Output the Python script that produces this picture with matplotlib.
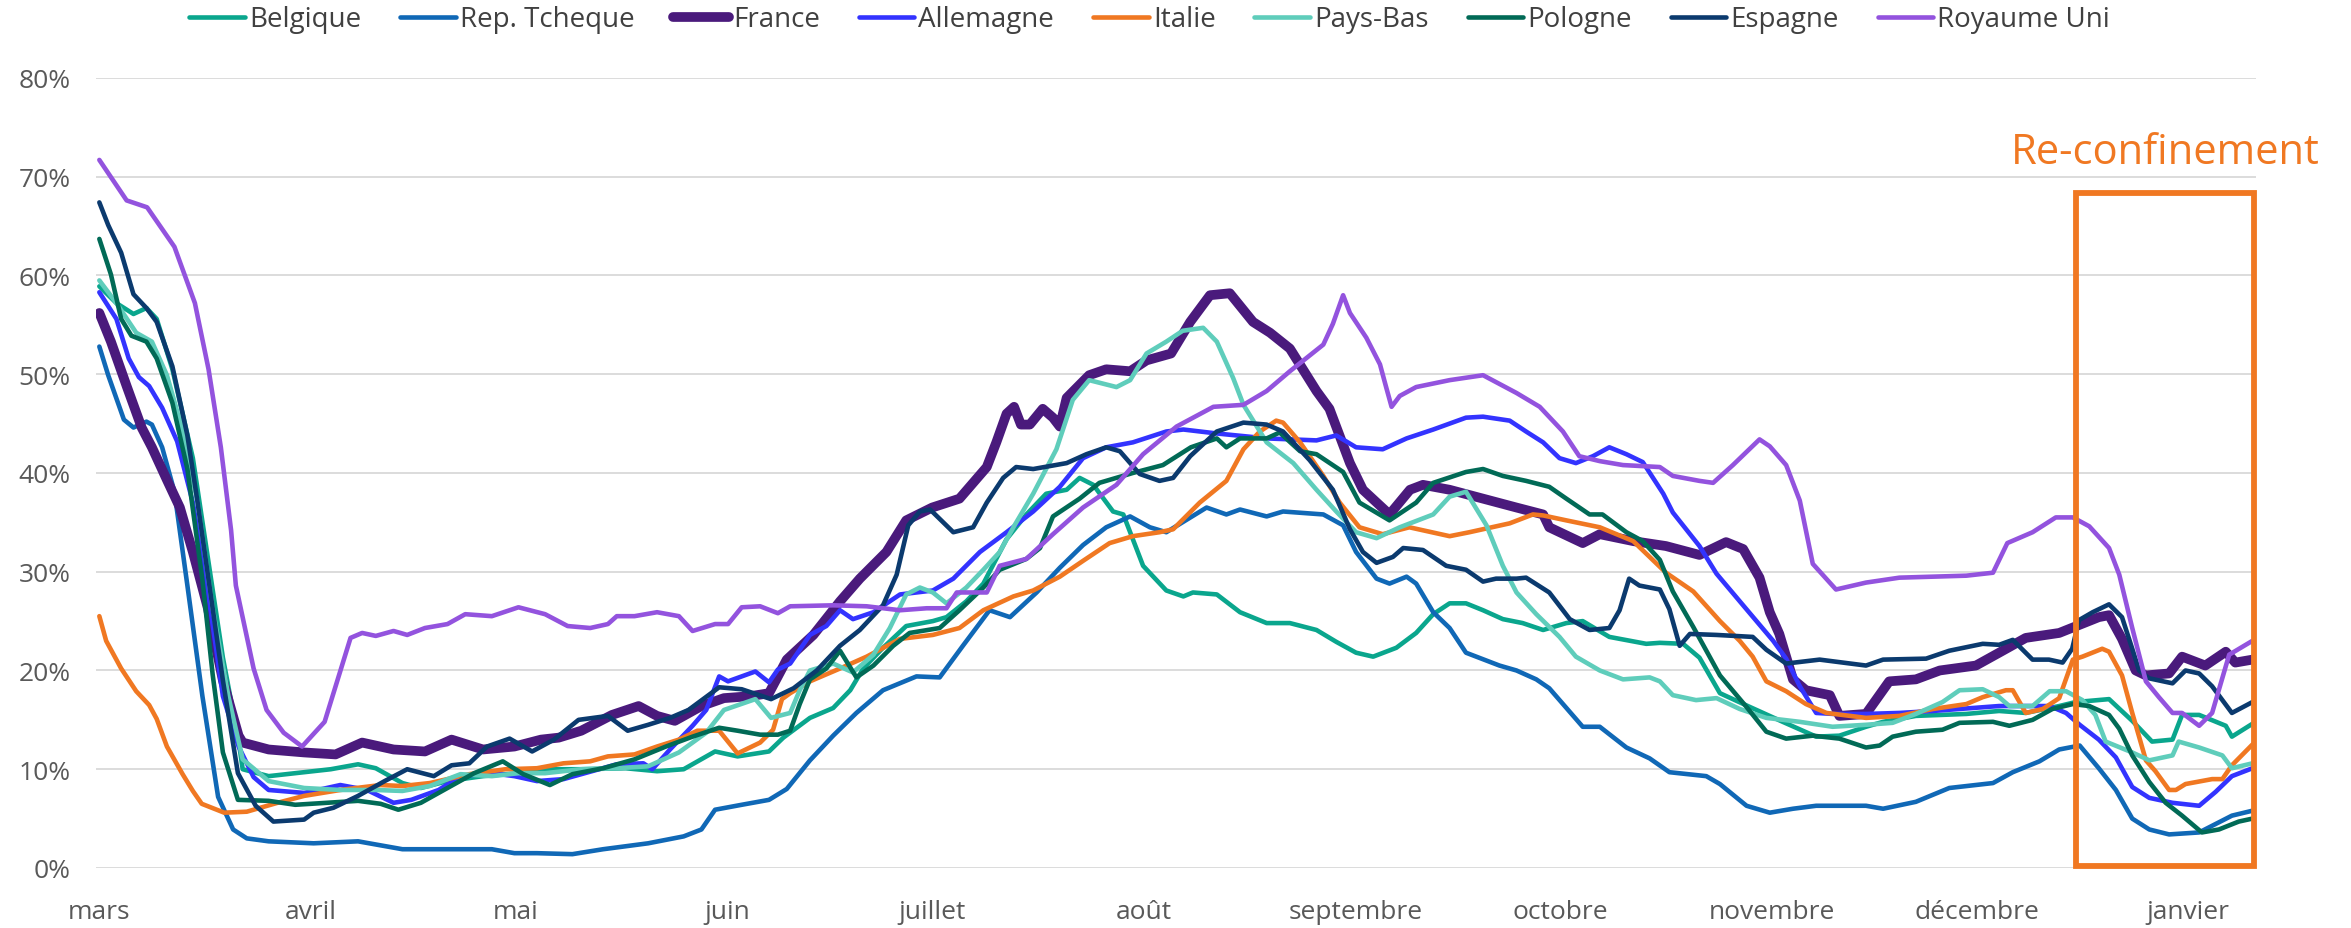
import matplotlib
matplotlib.use("Agg")
import matplotlib.pyplot as plt
import pandas as pd
from matplotlib.patches import Rectangle
from matplotlib.ticker import PercentFormatter

plt.rcParams["font.family"] = ["Open Sans", "DejaVu Sans"]

# values: (days since 1 March 2020, share in %)
BELGIQUE = [
    (0, 58.9), (2.5, 57.2), (5, 56.1), (6.9, 56.7), (8.4, 55.6), (10.7, 50.5), (13.7, 41.5),
    (15.9, 31.4), (18.1, 21.3), (20.4, 12.9), (21, 10), (24.8, 9.3), (28.7, 9.6), (33.9, 10),
    (37.9, 10.5), (40.5, 10.1), (44.4, 8.6), (47.1, 8.1), (51, 8.8), (56.2, 9.3), (61.4, 9.6),
    (65.3, 10), (70.6, 10), (77.1, 10.1), (81.7, 9.8), (85.6, 10), (90.2, 11.8), (93.5, 11.3),
    (98.1, 11.8), (100.2, 13.2), (104.1, 15.2), (107.5, 16.2), (110, 18), (111.9, 20.2),
    (114.8, 22.3), (118.2, 24.5), (122.1, 25), (124.1, 25.4), (127, 27), (129.5, 28.8),
    (132.9, 33.3), (135.8, 35.8), (138.7, 37.9), (141.7, 38.3), (143.6, 39.5), (145.6, 38.8),
    (148.5, 36.1), (150, 35.8), (152.9, 30.6), (156.3, 28.1), (158.8, 27.5), (160.2, 27.9),
    (163.7, 27.7), (167.1, 25.9), (171, 24.8), (174.4, 24.8), (178.3, 24.1), (181.2, 22.9),
    (184.1, 21.8), (186.6, 21.4), (190, 22.3), (192.9, 23.8), (195.4, 25.7), (197.8, 26.8),
    (200.2, 26.8), (202.7, 26.1), (205.6, 25.2), (208.5, 24.8), (211.5, 24.1), (214.9, 24.8),
    (217.3, 25), (221.2, 23.4), (226.6, 22.7), (228.6, 22.8), (232, 22.7), (234.4, 21.3),
    (235.9, 19.5), (237.4, 17.7), (241.8, 16.3), (246.6, 14.8), (251.5, 13.3), (254.9, 13.4),
    (258.8, 14.3), (261.3, 14.8), (266.1, 15.4), (273.5, 15.6), (278.3, 15.9), (282.2, 15.7),
    (287.1, 16.4), (289.5, 16.8), (294.4, 17.1), (297.8, 14.9), (300.7, 12.8), (303.7, 13),
    (305.1, 15.5), (307.6, 15.5), (311.5, 14.4), (312.4, 13.3), (315.4, 14.6),
]
REP_TCHEQUE = [
    (0, 52.8), (1.3, 49.9), (3.6, 45.4), (5, 44.6), (6.9, 45.2), (7.7, 44.9), (9.2, 42.6),
    (11, 38.1), (12.9, 28.6), (15.1, 17.4), (17.4, 7.2), (19.6, 3.9), (21.6, 3), (24.8, 2.7),
    (31.4, 2.5), (37.9, 2.7), (44.4, 1.9), (51, 1.9), (57.5, 1.9), (60.8, 1.5), (64.1, 1.5),
    (69.3, 1.4), (73.8, 1.9), (80.4, 2.5), (85.6, 3.2), (88.2, 3.9), (90.2, 5.9), (94.1, 6.4),
    (98.1, 6.9), (100.7, 8), (104.1, 10.9), (107.5, 13.4), (110.9, 15.7), (114.8, 18),
    (119.7, 19.4), (123.1, 19.3), (126.5, 22.5), (130.4, 26.1), (133.4, 25.4), (137.3, 27.9),
    (140.7, 30.4), (144.1, 32.7), (147.5, 34.5), (151, 35.6), (153.9, 34.5), (156.3, 34),
    (162.2, 36.5), (165.1, 35.8), (167.1, 36.3), (171, 35.6), (173.4, 36.1), (179.3, 35.8),
    (182.2, 34.7), (184.1, 32), (187.1, 29.3), (189, 28.8), (191.5, 29.5), (192.9, 28.8),
    (195.4, 25.9), (197.8, 24.3), (200.2, 21.8), (205.1, 20.5), (207.6, 20), (210.5, 19.1),
    (212.4, 18.2), (217.3, 14.3), (219.8, 14.3), (223.7, 12.2), (227.1, 11.1), (230, 9.7),
    (235.4, 9.3), (237.4, 8.5), (241.3, 6.3), (244.7, 5.6), (248.1, 6), (251.5, 6.3),
    (258.8, 6.3), (261.3, 6), (266.1, 6.7), (271, 8.1), (277.4, 8.6), (280.3, 9.7),
    (284.2, 10.8), (287.1, 12), (290.1, 12.4), (292.9, 10.1), (295.4, 7.9), (297.8, 5),
    (300.3, 3.9), (303.2, 3.4), (307.6, 3.6), (312.4, 5.3), (315.4, 5.8),
]
FRANCE = [
    (0, 56.2), (1.7, 53.3), (4, 48.8), (6.2, 44.6), (7.7, 42.6), (9.9, 39.3), (11.8, 36.5),
    (13.7, 32), (15.9, 26.3), (18.1, 19), (20.4, 13.4), (21, 12.7), (24.8, 12), (30, 11.7),
    (34.6, 11.5), (38.5, 12.7), (43.1, 12), (47.7, 11.8), (51.6, 13), (56.2, 12), (60.8, 12.3),
    (64.7, 13), (67.3, 13.2), (70.6, 13.9), (75.1, 15.5), (79, 16.4), (81.7, 15.4), (84.3, 14.9),
    (88.2, 16.4), (91.5, 17.2), (95.4, 17.4), (98.1, 17.7), (100.7, 21.1), (104.6, 23.6),
    (108.5, 27), (111.4, 29.3), (115.3, 32), (118.2, 35.2), (122, 36.5), (126, 37.4),
    (130, 40.6), (131.4, 43.1), (132.9, 46), (134, 46.7), (135, 44.9), (136.3, 44.9),
    (138.2, 46.5), (139.7, 45.6), (140.7, 44.7), (141.7, 47.6), (145, 49.9), (147.5, 50.5),
    (151, 50.3), (153.4, 51.4), (157, 52.1), (159.8, 55.3), (162.7, 58), (165.6, 58.2),
    (169, 55.3), (171.5, 54.2), (174.4, 52.6), (178.3, 48.3), (180.2, 46.5), (183.2, 41),
    (185.1, 38.3), (189, 35.8), (192, 38.3), (193.9, 38.8), (197.8, 38.3), (202.7, 37.4),
    (207.6, 36.5), (211.5, 35.8), (212.4, 34.5), (217.3, 32.9), (219.8, 33.8), (224.7, 33.1),
    (229.5, 32.6), (234.4, 31.7), (238.3, 33), (240.8, 32.3), (243.2, 29.4), (244.7, 25.9),
    (246.1, 23.7), (248.1, 19.1), (250, 18), (253.5, 17.5), (254.9, 15.4), (258.8, 15.6),
    (262.2, 18.9), (266.1, 19.1), (269.6, 20), (274.9, 20.5), (278.3, 21.8), (282.2, 23.3),
    (287.1, 23.8), (290, 24.6), (292.9, 25.4), (294.4, 25.6), (296.3, 23.2), (298.3, 20),
    (299.8, 19.5), (303.2, 19.7), (305.1, 21.4), (308.5, 20.5), (311.5, 21.9), (312.9, 20.8),
    (315.4, 21.1),
]
ALLEMAGNE = [
    (0, 58.3), (2.5, 55.6), (4.3, 51.6), (5.8, 49.7), (7.3, 48.8), (9.2, 46.6), (11.4, 43.2),
    (13.7, 37), (15.9, 28), (18.1, 17.4), (20.4, 12.3), (22.6, 9.2), (24.8, 7.9), (30, 7.6),
    (35.3, 8.4), (39.2, 7.9), (43.1, 6.6), (45.7, 6.9), (49.7, 7.9), (52.9, 9.3), (57.5, 9.6),
    (60.8, 9.3), (64.1, 8.8), (68, 9), (70.6, 9.5), (75.8, 10.5), (79.7, 10.6), (81, 10),
    (83.6, 12), (86.9, 14.4), (88.9, 16), (90.8, 19.4), (92.1, 18.9), (96.1, 19.9), (98.1, 18.8),
    (99.4, 20.1), (101.2, 20.7), (104.1, 23.6), (106.5, 24.5), (108.5, 26.1), (110.4, 25.2),
    (113.4, 25.9), (117.3, 27.7), (122.1, 28.1), (125.1, 29.3), (129, 32), (132.9, 34),
    (136.8, 36.1), (140.7, 38.6), (144.1, 41.5), (147.5, 42.6), (151.4, 43.1), (156.3, 44.2),
    (158.8, 44.4), (163.7, 44), (171, 43.5), (178.3, 43.3), (181.2, 43.8), (184.1, 42.6),
    (188, 42.4), (191.5, 43.5), (195.4, 44.4), (200.2, 45.6), (202.7, 45.7), (206.6, 45.3),
    (209, 44.2), (211.5, 43.1), (213.9, 41.5), (216.3, 41), (218.8, 41.7), (221.2, 42.6),
    (223.7, 41.9), (226.1, 41.1), (229.1, 37.9), (230.5, 36), (234.4, 32.6), (236.9, 29.8),
    (240.8, 26.6), (245.2, 23), (247.1, 21.2), (249.1, 18.4), (251.5, 15.7), (254, 15.6),
    (258.8, 15.6), (263.7, 15.7), (268.6, 15.9), (278.3, 16.4), (285.7, 16.4), (288.1, 15.7),
    (290.1, 14.5), (292.9, 13), (295.4, 11.2), (297.8, 8.2), (300.3, 7.1), (303.7, 6.6),
    (307.6, 6.3), (310, 7.7), (312.4, 9.3), (315.4, 10.1),
]
ITALIE = [
    (0, 25.5), (1, 23), (3.2, 20.2), (5.4, 17.9), (7.3, 16.5), (8.4, 15.1), (9.9, 12.3),
    (12.2, 9.5), (13.7, 7.8), (15, 6.5), (18.3, 5.6), (21.6, 5.7), (26.1, 6.6), (30, 7.3),
    (35.3, 7.9), (41.2, 8.4), (44.4, 8.3), (48.4, 8.6), (54.2, 9.5), (59.5, 10), (64.1, 10.1),
    (68, 10.6), (71.9, 10.8), (74.5, 11.3), (78.4, 11.5), (81.7, 12.3), (84.9, 13), (87.6, 13.9),
    (90.8, 13.9), (93.5, 11.6), (96.8, 12.7), (98.7, 14), (100, 17.1), (101.2, 17.7),
    (104.1, 18.9), (108.5, 20.2), (112.4, 21.4), (117.3, 23.2), (122.1, 23.6), (126, 24.3),
    (129.5, 26.1), (133.9, 27.5), (136.8, 28.1), (140.7, 29.5), (144.1, 31.1), (148, 32.9),
    (151.4, 33.6), (155.3, 34), (157.3, 34.3), (161.2, 37), (165.1, 39.2), (167.6, 42.4),
    (170, 44.2), (172.4, 45.3), (173.4, 45.1), (175.9, 43.1), (179.3, 39.7), (181.7, 37),
    (184.6, 34.5), (188, 33.8), (191.9, 34.5), (197.8, 33.6), (200.7, 34), (206.6, 34.9),
    (210, 35.8), (211.5, 35.7), (214.9, 35.2), (219.8, 34.5), (224.7, 33.1), (229.5, 29.9),
    (233.5, 28), (237.4, 25), (240.3, 23), (242.2, 21.4), (244.2, 18.9), (247.1, 17.9),
    (250, 16.6), (253, 15.7), (258.8, 15.2), (263.7, 15.4), (268.6, 16.1), (273.5, 16.6),
    (275.9, 17.3), (279.3, 18), (280.3, 18), (282.2, 15.7), (284.7, 16.1), (287.1, 17.2),
    (289.1, 21.1), (290.5, 21.4), (293.4, 22.2), (294.4, 21.9), (296.3, 19.5), (297.8, 15.7),
    (299.8, 10.9), (301.2, 9.8), (303.2, 7.9), (304.2, 7.9), (305.6, 8.5), (309.5, 9),
    (311, 9), (312.4, 10.4), (315.4, 12.5),
]
PAYS_BAS = [
    (0, 59.5), (2.5, 57.2), (5.4, 54.2), (7.7, 53.3), (9.9, 49.9), (12.2, 44.3), (14.4, 37),
    (16.6, 26.3), (18.9, 17.4), (21, 11), (24.8, 8.8), (30, 8.1), (35.3, 7.9), (40.5, 7.9),
    (44.4, 7.8), (48.4, 8.3), (52.9, 9.5), (57.5, 9.3), (61.4, 9.6), (65.3, 9.6), (70.6, 10),
    (75.8, 10.1), (80.4, 10.3), (84.9, 11.7), (88.9, 13.7), (91.5, 16), (96.1, 17.1),
    (98.4, 15.2), (101.2, 15.7), (102.6, 18), (104.1, 20), (107.5, 20.7), (110.4, 19.8),
    (113.4, 21.6), (115.8, 24.3), (118.2, 27.7), (120.2, 28.4), (122.1, 27.9), (124.1, 26.8),
    (127, 28.4), (129.5, 30.2), (131.9, 32), (133.9, 34.5), (136.8, 37.9), (140.2, 42.4),
    (142.6, 47.4), (145, 49.4), (149, 48.7), (151, 49.4), (153.4, 52.1), (156.3, 53.3),
    (158.7, 54.4), (161.7, 54.7), (163.7, 53.3), (166.1, 49.6), (167.6, 46.9), (171, 43.1),
    (174.9, 41), (178.3, 38.3), (181.2, 36.1), (184.1, 34), (187.1, 33.4), (190.5, 34.5),
    (195.4, 35.8), (197.8, 37.6), (200.2, 38.1), (203.2, 34.7), (205.6, 30.6), (207.6, 27.9),
    (210.5, 25.7), (213.9, 23.4), (216.3, 21.4), (219.8, 20), (223.2, 19.1), (227.1, 19.3),
    (228.6, 18.9), (230.5, 17.5), (233.9, 17), (236.9, 17.2), (240.3, 16.1), (244.2, 15.2),
    (249.1, 14.8), (253.9, 14.3), (258.8, 14.5), (262.7, 14.7), (266.1, 15.6), (270, 16.8),
    (272.5, 18), (275.9, 18.1), (278.3, 17.3), (279.8, 16.4), (283.2, 16.4), (285.7, 17.9),
    (288.1, 17.9), (290.5, 17), (292.4, 15.5), (293.9, 12.8), (297.8, 11.7), (300.3, 10.9),
    (303.7, 11.4), (304.6, 12.8), (307.6, 12.2), (311, 11.4), (312.4, 10.1), (315.4, 10.6),
]
POLOGNE = [
    (0, 63.7), (1.7, 60.1), (3.2, 55.6), (4.7, 53.9), (6.9, 53.3), (8.4, 51.6), (10.7, 47.1),
    (12.9, 40.4), (15.1, 29.2), (16.6, 19.6), (18.1, 11.7), (20.3, 6.9), (24.8, 6.8),
    (28.7, 6.4), (33.3, 6.6), (37.9, 6.8), (41.2, 6.5), (43.8, 5.9), (47.1, 6.6), (51, 8.1),
    (54.9, 9.6), (59.1, 10.8), (62.1, 9.5), (66, 8.4), (69.3, 9.5), (73.8, 10.1), (78.4, 11),
    (83, 12.3), (86.9, 13.3), (90.8, 14.2), (93.5, 13.9), (96.8, 13.5), (99.4, 13.5),
    (101.2, 13.9), (102.6, 16.6), (104.1, 19.1), (106.5, 20.2), (108.5, 22), (110.9, 19.3),
    (113.4, 20.5), (116.3, 22.5), (118.7, 23.8), (123.1, 24.3), (126, 26.1), (129.5, 28.4),
    (131.9, 30.2), (135.8, 31.3), (137.8, 32.4), (139.7, 35.6), (143.6, 37.4), (146.5, 39),
    (151.4, 40), (155.8, 40.8), (159.9, 42.6), (163.7, 43.5), (165.1, 42.6), (167.1, 43.5),
    (171, 43.5), (172.9, 44.1), (175.9, 42.2), (178.3, 41.9), (182.2, 40.1), (184.6, 37),
    (189, 35.2), (192.9, 37), (195.4, 39), (200.2, 40.1), (202.7, 40.4), (205.6, 39.7),
    (209, 39.2), (212.4, 38.6), (214.9, 37.4), (218.3, 35.8), (220.2, 35.8), (223.7, 34),
    (226.1, 33.1), (228.6, 31.2), (230.5, 28), (233.5, 24.4), (237.4, 19.5), (241.3, 16.3),
    (244.2, 13.8), (247.1, 13.1), (251, 13.4), (254.9, 13.1), (258.8, 12.2), (260.8, 12.4),
    (262.7, 13.3), (266.1, 13.8), (270, 14), (272.5, 14.7), (277.4, 14.8), (279.8, 14.4),
    (283.2, 15), (286.1, 16.1), (289.1, 16.6), (291.5, 16.4), (294.4, 15.5), (295.9, 14.1),
    (297.8, 11.4), (300.3, 8.7), (302.7, 6.6), (305.1, 5.3), (308, 3.6), (310.5, 3.9),
    (313.4, 4.7), (315.4, 5),
]
ESPAGNE = [
    (0, 67.4), (1.3, 65.1), (3.2, 62.3), (5, 58.1), (6.9, 56.7), (8.4, 55.3), (10.7, 50.8),
    (12.9, 43.8), (14.4, 37), (15.9, 29.7), (18.1, 19), (20.3, 9.6), (22.9, 6.3), (25.5, 4.7),
    (30, 4.9), (31.4, 5.6), (34.3, 6.1), (37.9, 7.3), (41.8, 8.8), (45.1, 10), (49, 9.3),
    (51.6, 10.4), (54.2, 10.6), (56.8, 12.3), (60.1, 13.1), (63.4, 11.8), (66.6, 13),
    (70.2, 15), (74.5, 15.4), (77.4, 13.9), (80.4, 14.5), (83.6, 15.2), (86.3, 16), (90.8, 18.3),
    (94.1, 18.1), (98.4, 17.1), (101.7, 18.2), (105.1, 20), (108.5, 22.5), (111.4, 24.1),
    (114.8, 26.6), (116.8, 29.7), (118.5, 34.7), (120.2, 36.1), (121.7, 36.3), (125.1, 34),
    (128, 34.5), (130, 37), (132.4, 39.5), (134.3, 40.6), (136.8, 40.4), (141.7, 41),
    (144.6, 41.9), (147.5, 42.6), (149.5, 42.2), (152.4, 39.9), (155.3, 39.2), (157.3, 39.5),
    (159.8, 41.7), (163.7, 44.2), (167.6, 45.1), (171, 44.9), (173.4, 44.2), (177.3, 41.3),
    (180.7, 38.3), (183.2, 34.3), (185.1, 32), (187.1, 30.9), (189.5, 31.5), (191, 32.4),
    (193.9, 32.2), (197.3, 30.6), (200.2, 30.2), (202.7, 29), (204.6, 29.3), (207.6, 29.3),
    (209, 29.4), (212.4, 27.9), (215.4, 25.2), (218.3, 24.1), (221.2, 24.3), (222.7, 26.1),
    (224.1, 29.3), (225.6, 28.6), (228.6, 28.2), (230, 26.2), (231.5, 22.5), (233, 23.7),
    (236.9, 23.6), (242.2, 23.4), (244.2, 22.1), (247.1, 20.7), (252, 21.1), (258.8, 20.5),
    (261.3, 21.1), (267.6, 21.2), (271, 22), (275.9, 22.7), (278.3, 22.6), (280.3, 23.1),
    (283.2, 21.1), (285.6, 21.1), (287.6, 20.8), (289, 22.2), (290, 25.1), (292, 25.9),
    (294.4, 26.7), (296.3, 25.4), (297.8, 22.2), (298.8, 20), (300.3, 19.2), (303.7, 18.7),
    (305.6, 20), (307.6, 19.7), (309.5, 18.4), (312.4, 15.7), (315.4, 16.8),
]
ROYAUME_UNI = [
    (0, 71.7), (4, 67.6), (7, 66.9), (11, 62.9), (14, 57.2), (16, 50.5), (17.8, 42.6),
    (19.3, 34.2), (20, 28.6), (22.6, 20.2), (24.5, 16), (27, 13.7), (29.7, 12.3), (33, 14.8),
    (36.8, 23.3), (38.5, 23.8), (40.5, 23.5), (43.1, 24), (45.1, 23.6), (47.7, 24.3),
    (51, 24.7), (53.6, 25.7), (57.5, 25.5), (61.4, 26.4), (65.3, 25.7), (68.6, 24.5),
    (71.9, 24.3), (74.5, 24.7), (75.8, 25.5), (78.4, 25.5), (81.7, 25.9), (84.9, 25.5),
    (86.9, 24), (90.2, 24.7), (92.1, 24.7), (94.1, 26.4), (96.8, 26.5), (99.4, 25.8),
    (101.2, 26.5), (107.5, 26.6), (112.4, 26.5), (117.3, 26.1), (121.2, 26.3), (124.1, 26.3),
    (125.6, 27.9), (130, 27.9), (131.9, 30.6), (135.8, 31.3), (139.7, 33.8), (144.1, 36.5),
    (149, 38.8), (152.9, 41.9), (157.8, 44.7), (163.2, 46.7), (167.6, 46.9), (171, 48.3),
    (174.4, 50.3), (179.3, 53), (180.7, 55.1), (182.2, 58), (183.2, 56.2), (185.6, 53.7),
    (187.6, 51), (188.5, 48.7), (189.3, 46.7), (190.5, 47.8), (192.9, 48.7), (197.8, 49.4),
    (202.7, 49.9), (207.6, 48.1), (211, 46.7), (214.4, 44.2), (216.8, 41.7), (219.8, 41.2),
    (223.2, 40.8), (228.6, 40.6), (230.5, 39.7), (234.4, 39.2), (236.4, 39), (239.3, 40.8),
    (243.2, 43.4), (244.7, 42.7), (247.1, 40.8), (249.1, 37.2), (251, 30.8), (254.4, 28.2),
    (258.8, 28.9), (263.7, 29.4), (273.5, 29.6), (277.4, 29.9), (279.5, 32.9), (283.2, 34),
    (286.6, 35.5), (289.1, 35.5), (291.5, 34.6), (294.4, 32.4), (295.9, 29.7), (297.8, 24.3),
    (299.8, 18.9), (301.7, 17.3), (303.7, 15.7), (305.1, 15.7), (307.6, 14.4), (309.5, 15.7),
    (312, 21.6), (315.4, 23),
]

COUNTRIES = ["Belgique", "Rep. Tcheque", "France", "Allemagne", "Italie",
             "Pays-Bas", "Pologne", "Espagne", "Royaume Uni"]
SERIES = [BELGIQUE, REP_TCHEQUE, FRANCE, ALLEMAGNE, ITALIE,
          PAYS_BAS, POLOGNE, ESPAGNE, ROYAUME_UNI]
COLORS = ["#0AA68D", "#1068B6", "#4A1A7C", "#3333FF", "#F07822",
          "#5FCDBB", "#016A56", "#0B3A6E", "#9353DE"]
MONTHS = ["mars", "avril", "mai", "juin", "juillet", "août", "septembre",
          "octobre", "novembre", "décembre", "janvier"]

# box marking the second lockdown, in days / %
BOX_DAYS = (289.6, 315.7)
BOX_PCT = (0.2, 68.4)

start = pd.Timestamp("2020-03-01")
month_days = [(d - start).days for d in pd.date_range(start, periods=len(MONTHS), freq="MS")]

fig = plt.figure(figsize=(23.51, 9.29), dpi=100)
ax = fig.add_axes([0.0408, 0.0646, 0.919, 0.8504])

for name, pts, color in zip(COUNTRIES, SERIES, COLORS):
    days, vals = zip(*pts)
    ax.plot(days, vals, color=color, label=name,
            linewidth=7.0 if name == "France" else 3.3,
            solid_joinstyle="round", solid_capstyle="round")

ax.set_xlim(-0.5, 316)
ax.set_ylim(0, 80)
ax.set_yticks(range(0, 81, 10))
ax.yaxis.set_major_formatter(PercentFormatter(xmax=100, decimals=0))
ax.set_xticks(month_days)
ax.set_xticklabels(MONTHS)
ax.yaxis.grid(True, color="#D9D9D9", linewidth=1.3)
ax.set_axisbelow(True)
for s in ax.spines.values():
    s.set_visible(False)
ax.tick_params(axis="both", length=0, labelsize=19, colors="#595959")
ax.tick_params(axis="x", pad=22)
ax.tick_params(axis="y", pad=18)

ax.add_patch(Rectangle((BOX_DAYS[0], BOX_PCT[0]), BOX_DAYS[1] - BOX_DAYS[0],
                       BOX_PCT[1] - BOX_PCT[0], fill=False, edgecolor="#F07822",
                       linewidth=4.2, clip_on=False, zorder=5))
ax.text(302.6, 72.5, "Re-confinement", color="#F07822", fontsize=30,
        ha="center", va="center", clip_on=False)

fig.legend(loc="center", bbox_to_anchor=(0.489, 0.978), ncol=9, frameon=False,
           fontsize=20, handlelength=2.0, handletextpad=0.15, columnspacing=1.4,
           labelcolor="#404040")

fig.savefig("out.png", dpi=100)
